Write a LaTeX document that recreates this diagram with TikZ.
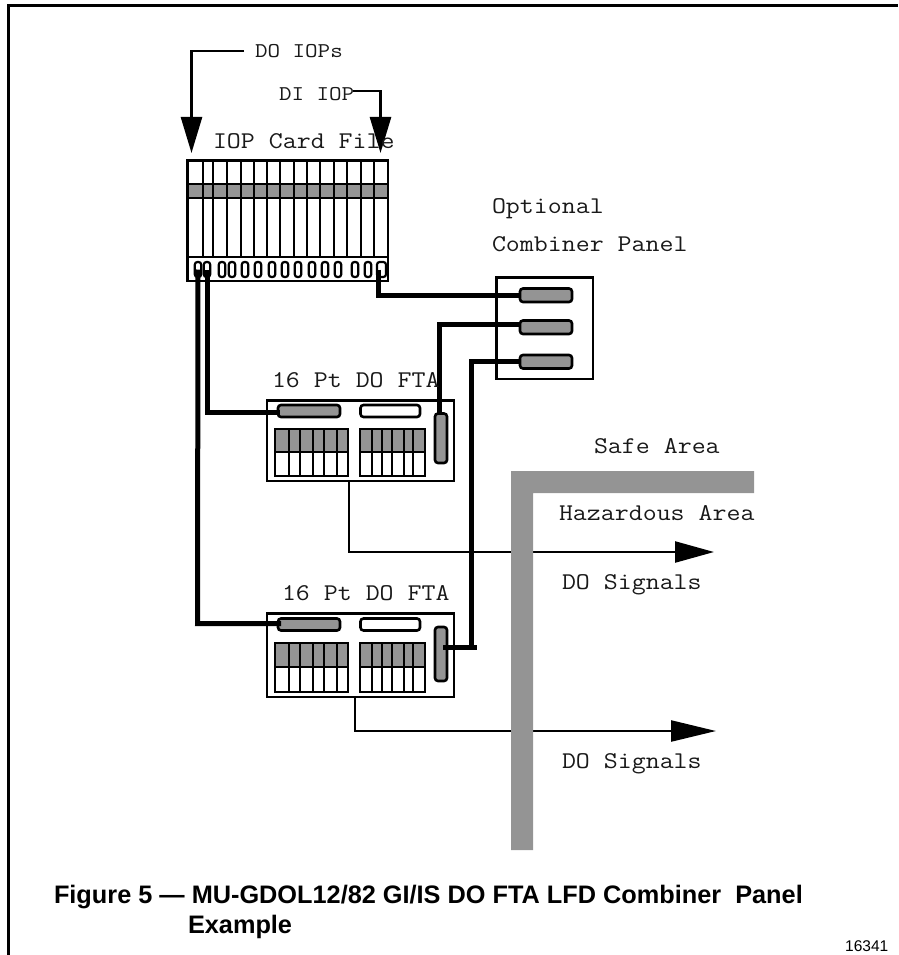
\documentclass[tikz,border=0pt]{standalone}
\usepackage{fontspec}
\usetikzlibrary{arrows.meta}
\setmainfont{Liberation Sans}
\definecolor{midgray}{HTML}{949494}
\newcommand{\mt}[1]{\scalebox{1.13}[1]{#1}}
\newcommand{\ms}[1]{\scalebox{1.16}[1]{#1}}
\tikzset{
 lab/.style={anchor=base west,inner sep=0pt,outer sep=0pt,font=\ttfamily\fontsize{24}{28}\selectfont,text=black!90},
 labsm/.style={lab,font=\ttfamily\fontsize{21}{26}\selectfont,text=black!90},
 captext/.style={anchor=base west,inner sep=0pt,outer sep=0pt,font=\bfseries\fontsize{25.3}{28}\selectfont},
 box/.style={draw=black,line width=2.4pt,fill=white},
 thinl/.style={draw=black,line width=2pt},
 fat/.style={draw=black,line width=5pt,line cap=butt,line join=miter},
 pill/.style={draw=black,line width=2.6pt,rounded corners=3pt,fill=midgray},
 wpill/.style={pill,fill=white},
 pin/.style={draw=black,line width=2.2pt,rounded corners=2.6pt,fill=white},
 lead/.style={draw=black,line width=2.4pt,line join=miter},
 bigarrow/.style={draw=black,-{Triangle[length=#1,width=21pt]}},
}
% \rectnode[style]{name}{x0}{y0}{x1}{y1}
\newcommand{\rectnode}[6][box]{%
 \pgfmathsetmacro{\rw}{(#5)-(#3)}\pgfmathsetmacro{\rh}{(#6)-(#4)}%
 \pgfmathsetmacro{\rx}{((#5)+(#3))/2}\pgfmathsetmacro{\ry}{((#6)+(#4))/2}%
 \node[#1,inner sep=0pt,outer sep=0pt,minimum width=\rw pt,minimum height=\rh pt] (#2) at (\rx,\ry) {};}
\newcommand{\termblock}[5]{%
 \fill[midgray] (#1,#3) rectangle (#2,#4);
 \draw[thinl] (#1,#3) rectangle (#2,#5);
 \draw[thinl] (#1,#4) -- (#2,#4);
}
\begin{document}
\begin{tikzpicture}[x=1pt,y=-1pt]
\useasboundingbox (0,0) rectangle (898,955);
% frame
\draw[black,line width=3pt] (8.5,955) -- (8.5,5.5) -- (898,5.5);

% IOP card file
\rectnode{iop}{187.5}{160.5}{388}{281}
\fill[midgray] (187.5,184) rectangle (388,198);
\draw[thinl] (187.5,184) -- (388,184) (187.5,198) -- (388,198);
\draw[box,fill=none] (187.5,257) -- (388,257);
\foreach \x in {203,213,227,241,254,267,280,294,307,320,334,347,361,374}
  \draw[thinl] (\x,160.5) -- (\x,257);
\draw[box,fill=none] (187.5,160.5) rectangle (388,281);
\foreach \n/\x in {a/198,b/207,c/222,d/232,e/245,f/258,g/272,h/285,i/298,j/312,k/325,l/338,m/355,o/368}{
  \rectnode[pin]{pin\n}{\x-3.2}{262}{\x+3.2}{277}
}
\rectnode[pin]{pinp}{377}{262}{386}{277}

% FTA 1
\rectnode{ftaA}{267}{400.5}{454}{481}
\rectnode[pill]{ftaAp}{278}{405}{340}{417}
\rectnode[wpill]{ftaAw}{360.5}{405}{420}{417}
\termblock{275}{348}{429}{452}{476}
\termblock{360}{425}{429}{452}{476}
\foreach \x in {289,300,313,324,337,372,382,392,404,413}
  \draw[thinl] (\x,429) -- (\x,476);
\rectnode[pill]{ftaAv}{435}{413.5}{447}{463}

% FTA 2
\rectnode{ftaB}{267}{613.5}{454}{697}
\rectnode[pill]{ftaBp}{278}{618.5}{340}{630.5}
\rectnode[wpill]{ftaBw}{360.5}{618.5}{420}{630.5}
\termblock{275}{348}{643}{667}{692}
\termblock{360}{425}{643}{667}{692}
\foreach \x in {289,300,313,324,337,372,382,392,404,413}
  \draw[thinl] (\x,643) -- (\x,692);
\rectnode[pill]{ftaBv}{435}{627}{447}{681}

% combiner panel
\rectnode{comb}{496.5}{277.5}{593}{379}
\rectnode[pill]{cA}{520}{288.5}{572}{302}
\rectnode[pill]{cB}{520}{320.5}{572}{334}
\rectnode[pill]{cC}{520}{355}{572}{368.5}

% thick cables
\draw[fat] (pina.center) -- (197.5,623.5) -- ([xshift=3pt]ftaBp.west |- 0,623.5);
\draw[fat] (pinb.center) -- (207,412.5) -- ([xshift=2pt]ftaAp.west |- 0,412.5);
\draw[fat] (pinp.center -| 378,0) -- (378,295) -- ([xshift=1pt]cA.west |- 0,295);
\draw[fat] (cB.west |- 0,324.5) -- (439.5,324.5) -- (ftaAv.north -| 439.5,0);
\draw[fat] (cC.west |- 0,361.5) -- (471,361.5) -- (471,647);
\draw[fat] (443,647) -- (477,647);

% signal leads
\coordinate (sigA) at (714,552);
\coordinate (sigB) at (716,731);
\draw[lead] (ftaA.south -| 349,0) -- (349,552) -- (540,552);
\draw[lead] (ftaB.south -| 355,0) -- (355,731) -- (540,731);
\draw[bigarrow=39pt,line width=2.4pt] (540,552) -- (sigA);
\draw[bigarrow=45pt,line width=2.4pt] (540,731) -- (sigB);

% safe / hazardous barrier, over the signal leads
\fill[midgray] (511,850) -- (511,471) -- (754,471) -- (754,493) -- (533,493) -- (533,850) -- cycle;

% IOP feeds
\coordinate (doEnd) at (191.5,153);
\coordinate (diEnd) at (380.5,153);
\draw[bigarrow=36pt,line width=2.6pt] (244,51) -- (191.5,51) -- (doEnd);
\draw[bigarrow=36pt,line width=2.6pt] (353,91) -- (380.5,91) -- (diEnd);

% labels
\node[labsm] (tDO) at (255,58) {\ms{DO IOPs}};
\node[labsm] (tDI) at (279,101) {\ms{DI IOP}};
\node[lab] (tIOP) at (213,149) {\mt{IOP Card File}};
\node[lab] (tOpt) at (492,213) {\mt{Optional}};
\node[lab] (tComb) at (492,251) {\mt{Combiner Panel}};
\node[lab] (tF1) at (272,387) {\mt{16 Pt DO FTA}};
\node[lab] (tF2) at (282,600) {\mt{16 Pt DO FTA}};
\node[lab] (tSafe) at (594,453) {\mt{Safe Area}};
\begin{scope}
\clip (0,0) rectangle (757,955);
\node[lab] (tHaz) at (559,520) {\mt{Hazardous Area}};
\end{scope}
\node[lab] (tSigA) at (562,589) {\mt{DO Signals}};
\node[lab] (tSigB) at (562,768) {\mt{DO Signals}};

% caption
\node[captext] (capA) at (54,903) {Figure 5 — MU-GDOL12/82 GI/IS DO FTA LFD Combiner\ \ Panel};
\node[captext] (capB) at (188,933) {Example};
\node[anchor=base west,inner sep=0pt,font=\fontsize{15.5}{18}\selectfont] (num) at (845,951) {16341};
\end{tikzpicture}
\end{document}
